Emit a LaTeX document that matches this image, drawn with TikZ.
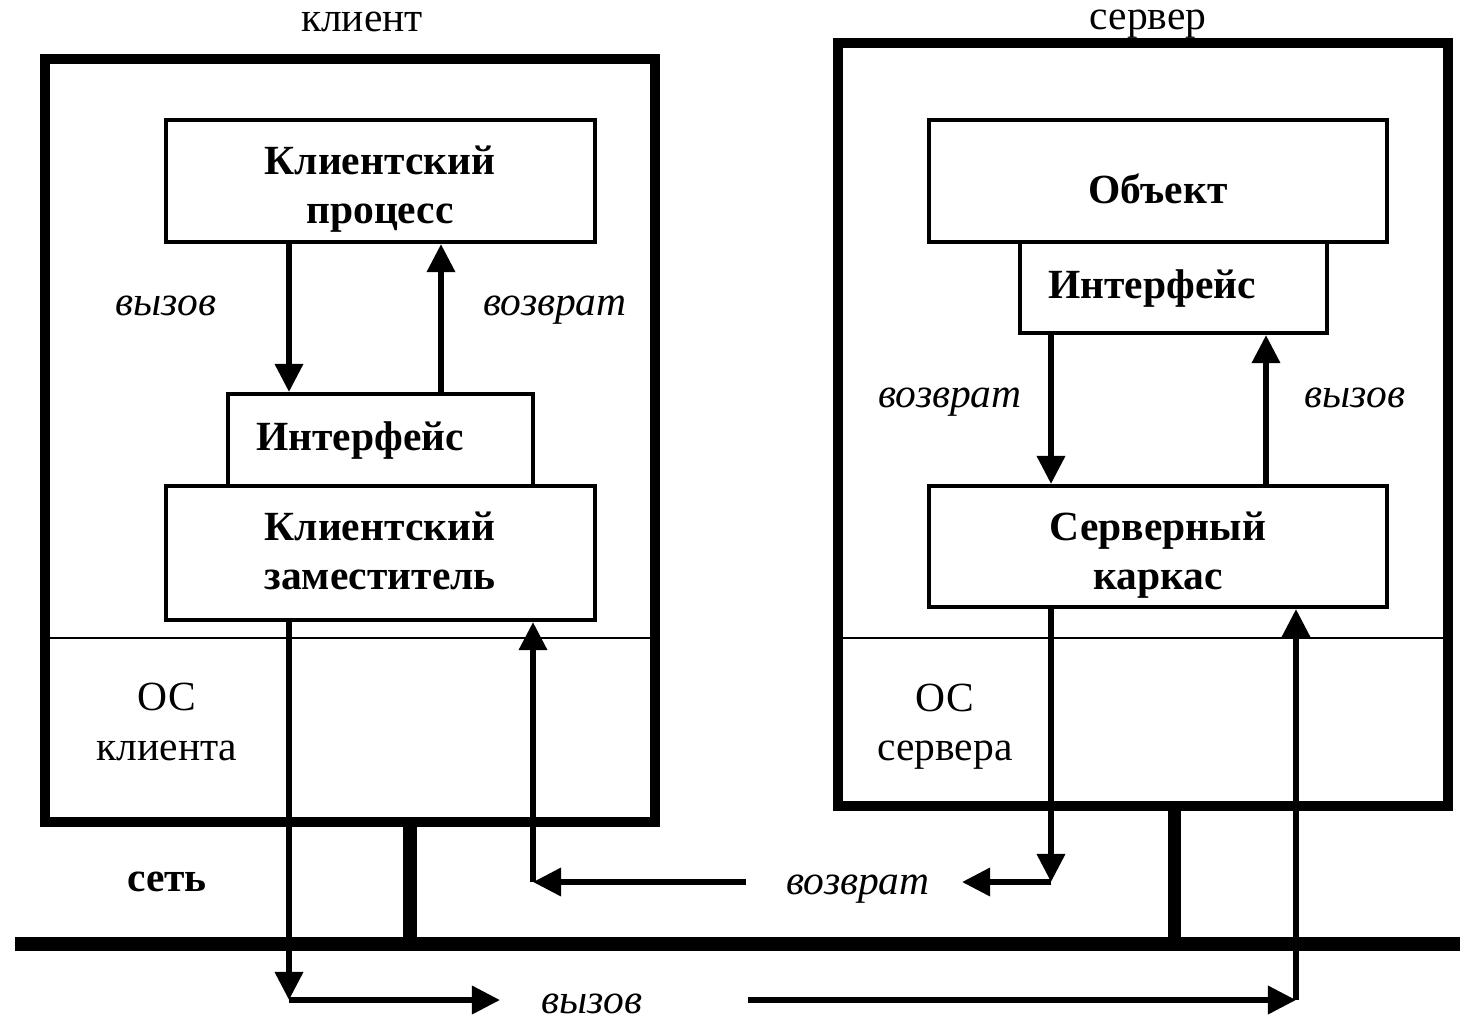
\documentclass[tikz,border=0pt]{standalone}
\usepackage{fontspec}
\setmainfont{Liberation Serif}
\usetikzlibrary{arrows.meta,calc}
\begin{document}
\begin{tikzpicture}[x=0.01cm,y=-0.01cm,
  frame/.style={draw,line width=2.9pt},
  block/.style={draw,line width=1.15pt,inner sep=0pt},
  btext/.style={font=\bfseries\fontsize{11.8}{14}\selectfont,align=center},
  flow/.style={line width=1.6pt,-{Triangle[length=8pt,width=7.8pt]}},
  wire/.style={line width=3.8pt},
  sep/.style={line width=0.6pt},
  lbl/.style={font=\itshape\fontsize{11.8}{14}\selectfont,anchor=base},
  plain/.style={font=\fontsize{11.8}{14}\selectfont,align=center}]
\useasboundingbox (0,0) rectangle (1460,1017);

% host frames
\draw[frame] (45,59) rectangle (655,822);
\draw[frame] (838,43) rectangle (1448,806);
\draw[sep] (45,638) -- (655,638);
\draw[sep] (838,638) -- (1448,638);
\node[plain,anchor=base] (tclient) at (362,31) {клиент};
\node[plain,anchor=base] (tserver) at (1148,29) {сервер};

% client side blocks
\node[block,minimum width=4.29cm,minimum height=1.22cm] (cproc) at (380.5,181) {};
\node[block,minimum width=3.05cm,minimum height=0.92cm] (cif) at (380.5,440) {};
\node[block,minimum width=4.29cm,minimum height=1.34cm] (cstub) at (380.5,553) {};
\node[btext] (cproc-t) at (380,189) {Клиентский\\процесс};
\node[btext] (cif-t) at (360,441) {Интерфейс};
\node[btext] (cstub-t) at (380,551) {Клиентский\\заместитель};

% server side blocks
\node[block,minimum width=4.58cm,minimum height=1.22cm] (obj) at (1158,181) {};
\node[block,minimum width=3.07cm,minimum height=0.91cm] (sif) at (1173.5,287.5) {};
\node[block,minimum width=4.58cm,minimum height=1.21cm] (skel) at (1158,546.5) {};
\node[btext] (obj-t) at (1158,189) {Объект};
\node[btext] (sif-t) at (1152,289) {Интерфейс};
\node[btext] (skel-t) at (1158,555) {Серверный\\каркас};

% OS labels
\node[plain] (osc) at (167,722) {ОС\\клиента};
\node[plain] (oss) at (945,727) {ОС\\сервера};
\node[font=\bfseries\fontsize{11.8}{14}\selectfont] (net) at (167,882) {сеть};

% network and host attachments
\coordinate (n0) at (15,944);
\coordinate (n1) at (1460,944);
\draw[wire] (n0) -- (n1);
\coordinate (ca) at (410,822);
\coordinate (sa) at (1174,806);
\draw[line width=3.7pt] (ca) -- (ca |- n0);
\draw[line width=3.7pt] (sa) -- (sa |- n0);

% client local call / return
\coordinate (xc1) at (289,0);
\coordinate (xc2) at (441,0);
\draw[flow] (cproc.south -| xc1) -- (cif.north -| xc1);
\draw[flow] (cif.north -| xc2) -- (cproc.south -| xc2);
\node[lbl] (lc1) at (166,315) {вызов};
\node[lbl] (lc2) at (555,315) {возврат};

% server local call / return
\coordinate (xs1) at (1051,0);
\coordinate (xs2) at (1266,0);
\draw[flow] (sif.south -| xs1) -- (skel.north -| xs1);
\draw[flow] (skel.north -| xs2) -- (sif.south -| xs2);
\node[lbl] (ls1) at (950,407) {возврат};
\node[lbl] (ls2) at (1355,407) {вызов};

% remote call path
\node[lbl] (rcall) at (592,1013) {вызов};
\coordinate (c1) at (289,1000);
\coordinate (c2) at (500,1000);
\coordinate (c3) at (748,1000);
\coordinate (c4) at (1296,1000);
\draw[flow] (cstub.south -| c1) -- (c1);
\draw[flow] (c1) -- (c2);
\draw[flow] (c3) -- (c4);
\draw[flow] (c4) -- (skel.south -| c4);

% remote return path
\node[lbl] (rret) at (858,894) {возврат};
\coordinate (r1) at (1051,882);
\coordinate (r2) at (962,882);
\coordinate (r3) at (746,882);
\coordinate (r4) at (533,882);
\draw[flow] (skel.south -| r1) -- (r1);
\draw[flow] (r1) -- (r2);
\draw[flow] (r3) -- (r4);
\draw[flow] (r4) -- (cstub.south -| r4);
\end{tikzpicture}
\end{document}
